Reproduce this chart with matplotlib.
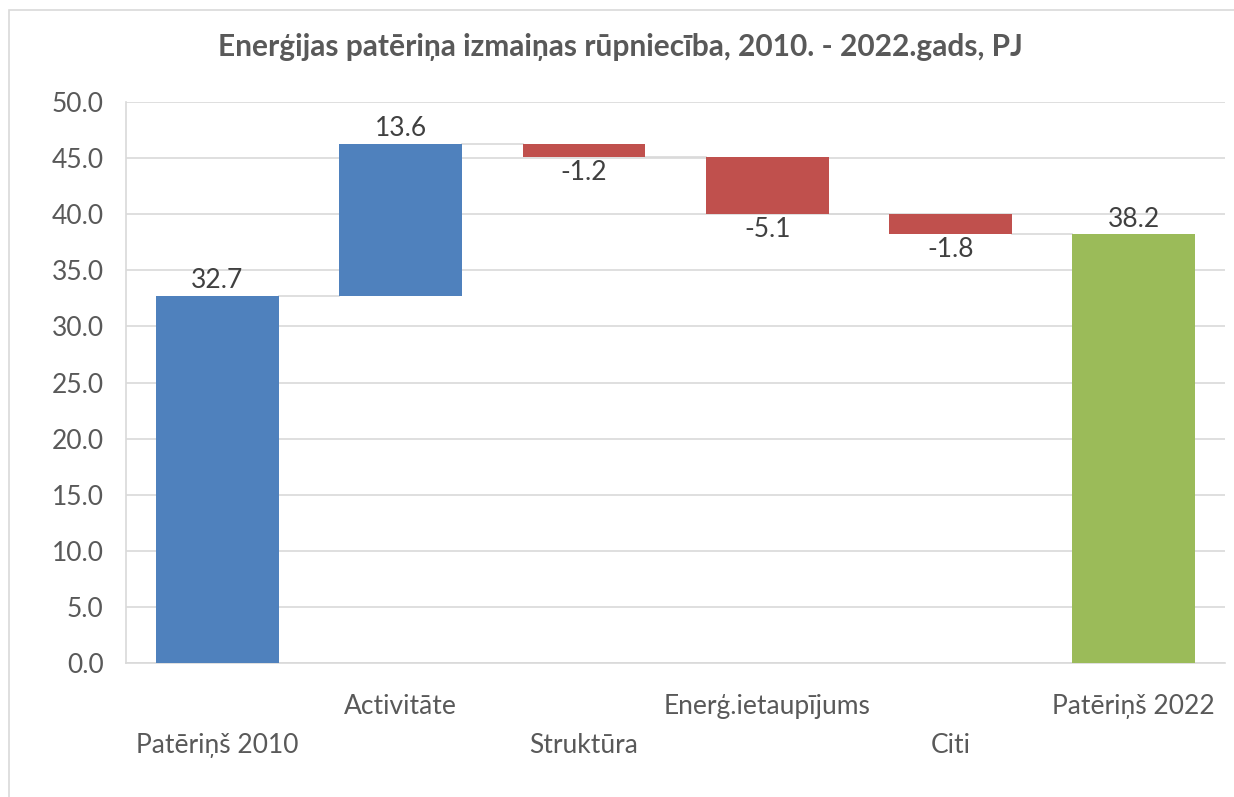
import numpy as np
import matplotlib.pyplot as plt
from matplotlib.patches import Rectangle

# data
categories = ['Patēriņš 2010', 'Activitāte', 'Struktūra', 'Enerģ.ietaupījums', 'Citi', 'Patēriņš 2022']
changes = [32.7, 13.6, -1.2, -5.1, -1.8]
total_2022 = 38.2

plt.rcParams['font.family'] = ['Lato', 'DejaVu Sans']

# waterfall geometry from the changes
running = np.cumsum(changes)
heights = list(changes) + [total_2022]
bottoms = [0.0] + list(running[:-1]) + [0.0]
bottoms = [b if h >= 0 else b + h for b, h in zip(bottoms, heights)]
heights_abs = [abs(h) for h in heights]
colors = ['#4F81BD'] + ['#4F81BD' if c > 0 else '#C0504D' for c in changes[1:]] + ['#9BBB59']

fig = plt.figure(figsize=(12.34, 7.97), dpi=100)
ax = fig.add_axes([0.102, 0.168, 0.891, 0.704])

x = np.arange(len(categories))
ax.bar(x, heights_abs, 0.67, bottom=bottoms, color=colors, zorder=3)

# connector lines
ends = list(running)
for i in range(len(categories) - 1):
    ax.plot([x[i] + 0.335, x[i + 1] - 0.335], [ends[i], ends[i]], color='#d9d9d9', lw=1.2, zorder=2)

# data labels
for i, h in enumerate(heights):
    if h >= 0:
        ax.text(x[i], bottoms[i] + heights_abs[i] + 0.25, f'{h:.1f}', ha='center', va='bottom',
                fontsize=19, color='#404040')
    else:
        ax.text(x[i], bottoms[i] - 0.25, f'{h:.1f}', ha='center', va='top',
                fontsize=19, color='#404040')

ax.set_xlim(-0.5, len(categories) - 0.5)
ax.set_ylim(0, 50)
ax.set_yticks(np.arange(0, 50.1, 5))
ax.set_yticklabels([f'{v:.1f}' for v in np.arange(0, 50.1, 5)])
ax.tick_params(axis='y', length=0, labelsize=19, labelcolor='#595959', pad=16)
ax.set_xticks([])
ax.grid(axis='y', color='#d9d9d9', lw=1.2, zorder=0)
for s in ['top', 'right']:
    ax.spines[s].set_visible(False)
ax.spines['left'].set_color('#d9d9d9')
ax.spines['bottom'].set_color('#d9d9d9')
ax.spines['left'].set_linewidth(1.2)
ax.spines['bottom'].set_linewidth(1.2)

# staggered category labels
for i, lab in enumerate(categories):
    yy = -0.146 if i % 2 == 0 else -0.078
    ax.text(x[i], yy, lab, transform=ax.get_xaxis_transform(), ha='center', va='center',
            fontsize=19, color='#595959')

fig.text(0.503, 0.941, 'Enerģijas patēriņa izmaiņas rūpniecība, 2010. - 2022.gads, PJ',
         ha='center', va='center', fontsize=21.5, fontweight='bold', color='#595959')

fig.patches.append(Rectangle((0.007, -0.01), 1.0, 0.997, transform=fig.transFigure,
                             fill=False, edgecolor='#d9d9d9', lw=1.2))

plt.savefig('out.png', dpi=100)
